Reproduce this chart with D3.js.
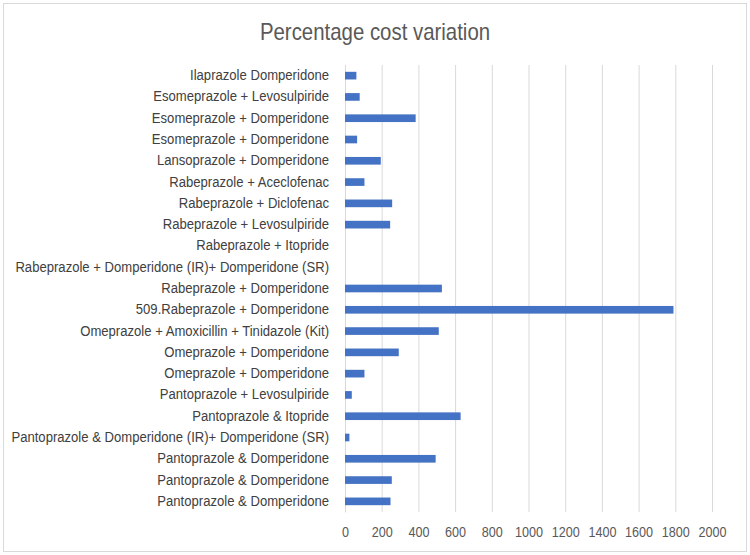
<!DOCTYPE html>
<html>
<head>
<meta charset="utf-8">
<script src="https://cdn.jsdelivr.net/npm/d3@7"></script>
<style>
  body { margin: 0; background: #fff; }
  text { font-family: "Liberation Sans", Arial, sans-serif; }
</style>
</head>
<body>
<div id="chart"></div>
<script>
const categories = [
    'Ilaprazole Domperidone',
    'Esomeprazole + Levosulpiride',
    'Esomeprazole + Domperidone',
    'Esomeprazole + Domperidone',
    'Lansoprazole + Domperidone',
    'Rabeprazole + Aceclofenac',
    'Rabeprazole + Diclofenac',
    'Rabeprazole + Levosulpiride',
    'Rabeprazole + Itopride',
    'Rabeprazole + Domperidone (IR)+ Domperidone (SR)',
    'Rabeprazole + Domperidone',
    '509.Rabeprazole + Domperidone',
    'Omeprazole + Amoxicillin + Tinidazole (Kit)',
    'Omeprazole + Domperidone',
    'Omeprazole + Domperidone',
    'Pantoprazole + Levosulpiride',
    'Pantoprazole & Itopride',
    'Pantoprazole & Domperidone (IR)+ Domperidone (SR)',
    'Pantoprazole & Domperidone',
    'Pantoprazole & Domperidone',
    'Pantoprazole & Domperidone'
];
const values = [62, 80, 385, 66, 195, 106, 257, 246, 0, 0, 528, 1790, 511, 293, 106, 37, 630, 24, 494, 255, 248];
const xTicks = [0, 200, 400, 600, 800, 1000, 1200, 1400, 1600, 1800, 2000];
const title = 'Percentage cost variation';

const W = 750, H = 555;
const margin = { top: 65, right: 38, bottom: 43, left: 345 };
const width = W - margin.left - margin.right;
const height = H - margin.top - margin.bottom;

const root = d3.select('#chart').append('svg').attr('width', W).attr('height', H);
root.append('rect').attr('x', 3.5).attr('y', 3.5).attr('width', W - 7).attr('height', H - 7)
    .attr('fill', '#fff').attr('stroke', '#d9d9d9');

// narrow-ish font in the original: squeeze text horizontally
function squeeze(sel, k) {
    sel.each(function () {
        const len = this.getComputedTextLength();
        d3.select(this).attr('textLength', len * k).attr('lengthAdjust', 'spacingAndGlyphs');
    });
}

root.append('text').attr('x', 375).attr('y', 40).attr('text-anchor', 'middle')
    .attr('fill', '#595959').style('font-size', '24px').text(title)
    .call(squeeze, 0.85);

const svg = root.append('g').attr('transform', `translate(${margin.left},${margin.top})`);

const x = d3.scaleLinear().domain([0, 2000]).range([0, width]);
const y = d3.scaleBand().domain(d3.range(categories.length)).range([0, height]).paddingInner(0.64).paddingOuter(0.32);

// gridlines + tick labels
const xAxis = svg.append('g')
    .call(d3.axisBottom(x).tickValues(xTicks).tickSize(height).tickSizeOuter(0).tickPadding(15).tickFormat(d3.format('d')));
xAxis.select('.domain').remove();
xAxis.selectAll('.tick line').attr('stroke', '#d9d9d9').attr('stroke-width', 1);
xAxis.selectAll('.tick text').attr('fill', '#595959').style('font-size', '14px').call(squeeze, 0.9);

// category axis
const yAxis = svg.append('g')
    .call(d3.axisLeft(y).tickSize(0).tickPadding(16).tickFormat(i => categories[i]));
yAxis.select('.domain').attr('stroke', '#d9d9d9');
yAxis.selectAll('.tick text').attr('fill', '#404040').style('font-size', '14px').call(squeeze, 0.935);

svg.selectAll('rect.bar').data(values).join('rect').attr('class', 'bar')
    .attr('x', x(0)).attr('y', (d, i) => y(i)).attr('height', y.bandwidth())
    .attr('width', d => x(d) - x(0)).attr('fill', '#4472c4');
</script>
</body>
</html>
